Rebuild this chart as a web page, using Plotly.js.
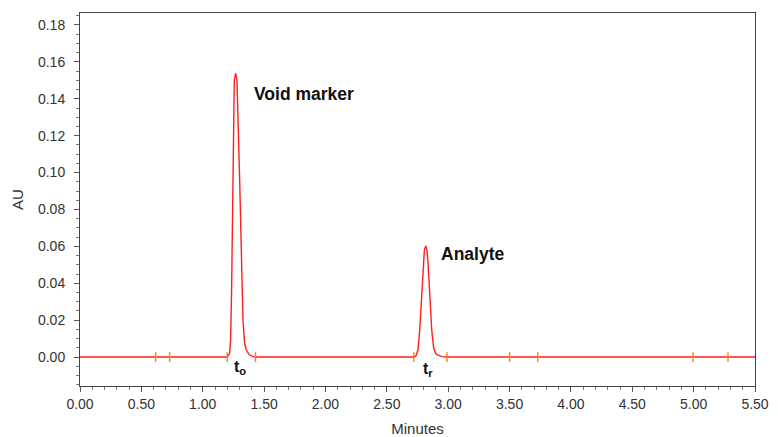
<!DOCTYPE html>
<html>
<head>
<meta charset="utf-8">
<script src="https://cdn.plot.ly/plotly-3.0.1.min.js"></script>
<style>html,body{margin:0;padding:0;background:#fff;}#chart{width:778px;height:437px;}</style>
</head>
<body>
<div id="chart"></div>
<script>
// Chromatogram trace (minutes, AU)
const timeMin = [0.00,0.15,0.18,0.21,0.24,0.27,0.30,0.33,0.36,0.40,0.62,0.64,0.66,0.70,0.73,0.745,0.76,0.80,
  1.20,1.219,1.227,1.235,1.246,1.257,1.268,1.279,1.301,1.314,1.328,1.341,1.355,1.38,1.41,1.43,
  2.72,2.736,2.754,2.768,2.782,2.795,2.806,2.817,2.827,2.836,2.850,2.866,2.882,2.90,2.917,2.95,2.99,
  3.50,3.515,3.53,3.70,3.715,3.73,4.995,5.01,5.03,5.24,5.26,5.28,5.50];
const absorbance = [0,0,0.0004,0,0.0004,0,0.0004,0,0.0003,0,0,0.0003,0,0,0.0004,0.0002,0,0,
  0,0.002,0.009,0.035,0.089,0.150,0.1538,0.150,0.096,0.0526,0.020,0.0076,0.0038,0.0012,0.0002,0,
  0,0.0005,0.0038,0.0146,0.0327,0.0508,0.058,0.0602,0.058,0.0508,0.0327,0.0146,0.0047,0.0018,0.001,0.0002,0,
  0,0.0004,0,0,0.0004,0,0,0.0004,0,0,0.0004,0,0];
// Integration event markers (minutes)
const eventTimes = [0.616,0.73,1.20,1.43,2.72,2.99,3.50,3.73,4.995,5.28];
const eventLevels = [0,0,0,0,0,0,0,0,0,0];
// Peak labels
const peakLabels = ["Void marker","Analyte"];
const peakLabelX = [1.405,2.925];
const peakLabelY = [0.1426,0.0559];
const markLabels = ["t<sub>o</sub>","t<sub>r</sub>"];
const markLabelX = [1.302,2.834];
const markLabelY = [-0.0055,-0.0066];

const red = 'rgb(255,30,30)';
const fam = 'Liberation Sans, Arial, sans-serif';
const traces = [
  {x: timeMin, y: absorbance, type:'scatter', mode:'lines', line:{color:red, width:1.4}, hoverinfo:'skip'},
  {x: eventTimes, y: eventLevels, type:'scatter', mode:'markers',
   marker:{symbol:'line-ns-open', size:7, line:{color:red, width:1.4}}, hoverinfo:'skip'}
];
const annotations = [];
peakLabels.forEach((t,i)=>annotations.push({x:peakLabelX[i], y:peakLabelY[i], xref:'x', yref:'y', text:'<b>'+t+'</b>',
  showarrow:false, xanchor:'left', yanchor:'middle', font:{family:fam, size:17.5, color:'#111'}}));
markLabels.forEach((t,i)=>annotations.push({x:markLabelX[i], y:markLabelY[i], xref:'x', yref:'y', text:'<b>'+t+'</b>',
  showarrow:false, xanchor:'center', yanchor:'middle', font:{family:fam, size:16, color:'#111'}}));

const tickFont = {family:fam, size:14, color:'#333'};
const layout = {
  width:778, height:437,
  margin:{l:80, r:23, t:13, b:51},
  paper_bgcolor:'#fff', plot_bgcolor:'#fff',
  showlegend:false,
  xaxis:{range:[0,5.5], dtick:0.5, tick0:0, tickformat:'.2f', ticks:'outside', ticklen:5, tickcolor:'#555',
    showgrid:false, zeroline:false, showline:true, linecolor:'#444', linewidth:1, mirror:true,
    minor:{dtick:0.1, ticks:'outside', ticklen:3, tickcolor:'#777'},
    tickfont:tickFont, title:{text:'Minutes', font:{family:fam, size:15, color:'#333'}, standoff:17}},
  yaxis:{range:[-0.0157,0.1865], dtick:0.02, tick0:0, tickformat:'.2f', ticks:'outside', ticklen:5, tickcolor:'#555',
    ticklabelstandoff:6,
    showgrid:false, zeroline:false, showline:true, linecolor:'#444', linewidth:1, mirror:true,
    minor:{dtick:0.005, ticks:'outside', ticklen:3, tickcolor:'#777'},
    tickfont:tickFont, title:{text:'AU', font:{family:fam, size:15, color:'#333'}, standoff:10}},
  annotations: annotations
};
Plotly.newPlot('chart', traces, layout, {staticPlot:true, displayModeBar:false});
</script>
</body>
</html>
